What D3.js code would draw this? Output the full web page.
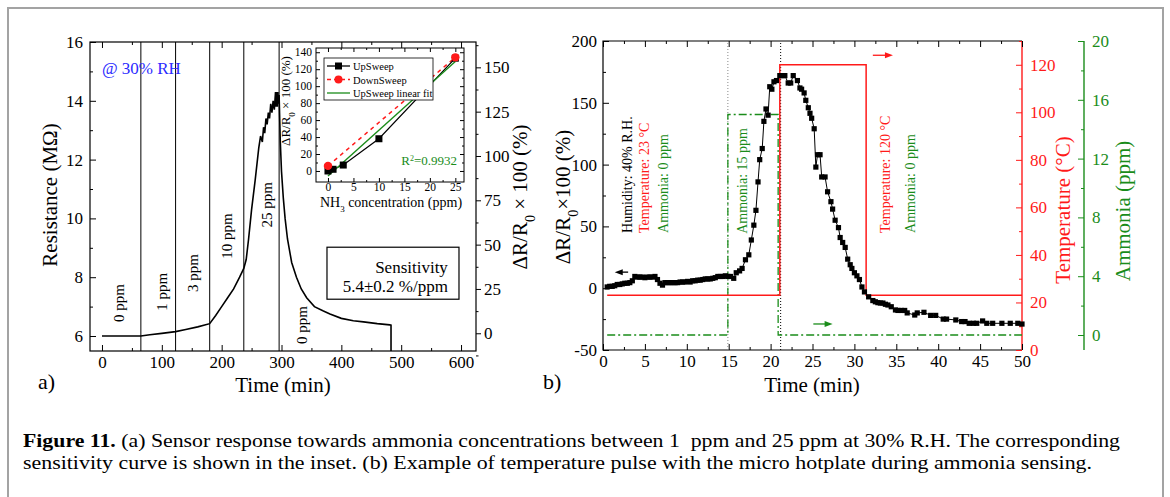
<!DOCTYPE html>
<html>
<head>
<meta charset="utf-8">
<script src="https://cdn.jsdelivr.net/npm/d3@7"></script>
<style>
body { margin: 0; background: #fff; }
text { font-family: "Liberation Serif", "Times New Roman", serif; }
</style>
</head>
<body>
<svg id="fig" width="1170" height="497"></svg>
<script>
// ---- panel a: resistance vs time ----
const resTime = [0, 20, 40, 65, 80, 100, 123, 140, 160, 180, 190, 200, 210, 220, 230, 237,
  241, 245, 250, 256, 262, 265, 268, 270, 272, 274, 276, 278, 280, 282, 284, 286, 288, 290,
  291, 292, 293, 294, 295, 296, 298, 300, 303, 306, 310, 317, 325, 333, 342, 355, 370, 381,
  400, 420, 437, 460, 481, 483, 483];
const resVal = [6.0, 6.0, 6.0, 6.0, 6.04, 6.09, 6.15, 6.22, 6.31, 6.42, 6.7, 7.0, 7.3, 7.6, 8.0, 8.3,
  8.6, 9.3, 10.3, 11.3, 12.4, 12.8, 12.6, 13.1, 12.9, 13.4, 13.2, 13.6, 13.4, 13.9, 13.6, 14.0, 13.7, 14.3,
  13.8, 14.3, 13.8, 14.3, 13.9, 14.2, 12.6, 11.6, 10.7, 10.0, 9.3, 8.5, 8.0, 7.6, 7.3, 7.0, 6.85, 6.75,
  6.6, 6.52, 6.48, 6.42, 6.38, 6.37, 5.49];
const stepTimes = [65, 123, 180, 237, 296];
const ppmLabels = ["0 ppm", "1 ppm", "3 ppm", "10 ppm", "25 ppm", "0 ppm"];
const ppmLabelTime = [37, 109, 160, 217, 284, 343];
const ppmLabelRes = [7.12, 7.5, 8.14, 9.4, 10.46, 6.37];

// ---- inset: sensitivity ----
const insetConc = [0, 1, 3, 10, 25];
const insetUp = [0, 2, 7, 38, 133];
const insetDownConc = [0, 25];
const insetDown = [6, 134];
const fitConc = [0, 25];
const fitVal = [-6, 129];

// ---- panel b: temperature pulse ----
const pulseTime = [0.5, 0.8, 1.1, 1.4, 1.7, 2.0, 2.3, 2.6, 2.9, 3.2, 3.5, 3.8, 4.1, 4.4, 4.7, 5.0, 5.3, 5.6,
  5.9, 6.2, 6.5, 6.8, 7.1, 7.4, 7.7, 8.0, 8.3, 8.6, 8.9, 9.2, 9.5, 9.8, 10.1, 10.4, 10.7, 11.0, 11.3,
  11.6, 11.9, 12.2, 12.5, 12.8, 13.1, 13.4, 13.7, 14.0, 14.3, 14.6, 14.9, 15.2, 15.6, 15.9, 16.3,
  16.6, 17.0, 17.4, 17.7, 18.0, 18.25, 18.5, 18.7, 19.0, 19.2, 19.45, 19.7, 19.9, 20.15, 20.4, 20.7,
  21.1, 21.4, 21.7, 22.1, 22.4, 22.7, 23.2, 23.5, 23.7, 24.0, 24.2, 24.5, 24.7, 24.9, 25.2, 25.4,
  25.6, 25.9, 26.1, 26.5, 26.8, 27.2, 27.4, 27.7, 28.1, 28.3, 28.6, 28.9, 29.2, 29.5, 29.7, 30.0,
  30.3, 30.6, 30.9, 31.2, 31.7, 32.2, 32.5, 32.8, 33.1, 33.4, 33.7, 34.0, 34.4, 34.9, 35.2, 35.6,
  36.0, 36.3, 37.2, 37.5, 38.3, 39.1, 39.7, 40.6, 41.0, 42.1, 42.8, 43.2, 43.7, 44.2, 44.6, 45.3,
  45.8, 46.5, 47.6, 48.6, 49.5, 50.0];
const pulseResp = [1, 1.5, 1.5, 2, 3, 3, 3.5, 4, 4, 4.5, 6, 9.5, 9, 9, 9, 8.5, 9, 9,
  9, 9.5, 7, 4, 2.5, 4.5, 4.5, 4.5, 4.5, 4.5, 4.5, 5, 5, 5, 5.5, 5, 6, 6, 6.5,
  6.5, 7, 7.5, 7.5, 7.5, 8, 8.5, 9.5, 9.5, 9.5, 10, 9.5, 9.5, 8, 12.5, 14,
  16, 23, 27, 39, 51, 63, 86, 104, 113, 135, 145, 140, 163, 161, 167, 168,
  172, 172, 172, 166, 166, 172, 168, 162, 161, 158, 152, 146, 141.5, 137.5, 129, 98,
  108, 108, 90, 90, 78, 70, 64, 55, 49, 41, 37, 33, 23.5, 19, 16, 12.5,
  10, 7, 1, -3, -7, -10, -11, -11.7, -12, -12, -13, -13.6, -15, -17.6, -18, -18,
  -18, -20, -21.7, -20, -19.5, -22, -22, -25, -25, -25.7, -27, -27, -28.4, -28.4, -28.4, -26.5,
  -28.4, -28.4, -28.4, -28.4, -28.4, -29];
const tempTime = [0.5, 21.1, 21.1, 31.4, 31.4, 50];
const tempVal = [23, 23, 120, 120, 23, 23];
const nh3Time = [0.5, 14.9, 14.9, 20.9, 20.9, 50];
const nh3Val = [0, 0, 15, 15, 0, 0];
const switchTimes = [14.9, 21.2];

const RED = "#ff1a1a", GREEN = "#1a8c1a", BLUE = "#2b2bff";
const svg = d3.select("#fig");

// outer frame of the figure
svg.append("rect").attr("x", 8).attr("y", 8).attr("width", 1155).attr("height", 560)
  .attr("fill", "none").attr("stroke", "#a3a3a3").attr("stroke-width", 2);

// axis helper: major ticks (optionally labelled) + unlabelled minor ticks
function addAxis(g, orient, scale, major, minor, o) {
  const make = { left: d3.axisLeft, right: d3.axisRight, top: d3.axisTop, bottom: d3.axisBottom }[orient];
  const color = o.color || "#000";
  const len = o.size || -6;
  const a = g.append("g").attr("transform", o.tr)
    .call(make(scale).tickValues(major).tickSize(len).tickSizeOuter(0).tickPadding(o.pad ?? 6)
      .tickFormat(o.labels ? (d => String(d)) : ""));
  a.select(".domain").remove();
  a.attr("font-family", null).attr("font-size", null);
  a.selectAll("line").attr("stroke", color).attr("stroke-width", 1);
  a.selectAll("text").attr("fill", color).style("font-size", (o.fs || 17) + "px");
  if (minor) {
    const m = g.append("g").attr("transform", o.tr)
      .call(make(scale).tickValues(minor).tickSize(len / 2).tickFormat(""));
    m.select(".domain").remove();
    m.selectAll("line").attr("stroke", color).attr("stroke-width", 1);
  }
  return a;
}

function rotText(g, x, y, str, size, color, anchor) {
  return g.append("text").attr("transform", `translate(${x},${y}) rotate(-90)`)
    .attr("text-anchor", anchor || "middle").style("font-size", size + "px")
    .attr("fill", color || "#000").text(str);
}

function arrow(g, x1, y1, x2, y2, color) {
  const dir = Math.sign(x2 - x1);
  g.append("line").attr("x1", x1).attr("y1", y1).attr("x2", x2 - dir * 5).attr("y2", y2)
    .attr("stroke", color).attr("stroke-width", 1.3);
  g.append("path").attr("d", `M${x2},${y2} L${x2 - dir * 8},${y2 - 3} L${x2 - dir * 8},${y2 + 3} Z`)
    .attr("fill", color);
}

// ================= panel a =================
const xA = d3.scaleLinear().domain([-20, 625]).range([90, 476]);
const yA = d3.scaleLinear().domain([5.49, 16]).range([351, 42]);
const yA2 = d3.scaleLinear().domain([-10, 164.3]).range([351, 42]);
const gA = svg.append("g");

gA.append("rect").attr("x", xA.range()[0]).attr("y", yA.range()[1])
  .attr("width", xA.range()[1] - xA.range()[0]).attr("height", yA.range()[0] - yA.range()[1])
  .attr("fill", "none").attr("stroke", "#000").attr("stroke-width", 1.2);

addAxis(gA, "bottom", xA, d3.range(0, 601, 100), d3.range(50, 601, 100), { tr: `translate(0,351)`, labels: true, pad: 5 });
addAxis(gA, "top", xA, d3.range(0, 601, 100), d3.range(50, 601, 100), { tr: `translate(0,42)` });
addAxis(gA, "left", yA, d3.range(6, 16.1, 2), d3.range(7, 16, 2), { tr: `translate(90,0)`, labels: true, pad: 7 });
addAxis(gA, "right", yA2, d3.range(0, 151, 25), d3.range(-12.5, 163, 25), { tr: `translate(476,0)`, labels: true, size: 5, pad: 3 });

// concentration switch lines
gA.selectAll(".step").data(stepTimes).join("line")
  .attr("x1", d => xA(d)).attr("x2", d => xA(d))
  .attr("y1", yA.range()[0]).attr("y2", yA.range()[1])
  .attr("stroke", "#000").attr("stroke-width", 1);

const resPts = resTime.map((t, i) => [t, resVal[i]]);
gA.append("path").datum(resPts)
  .attr("fill", "none").attr("stroke", "#000").attr("stroke-width", 1.6)
  .attr("d", d3.line().x(d => xA(d[0])).y(d => yA(d[1])));

ppmLabels.forEach((s, i) => rotText(gA, xA(ppmLabelTime[i]), yA(ppmLabelRes[i]), s, 15));

gA.append("text").attr("x", xA(0)).attr("y", yA(14.9)).attr("fill", BLUE)
  .style("font-size", "17px").text("@ 30% RH");

// sensitivity box
gA.append("rect").attr("x", xA(376)).attr("y", yA(9.02)).attr("width", 132).attr("height", 52)
  .attr("fill", "#fff").attr("stroke", "#000").attr("stroke-width", 1.2);
gA.append("text").attr("x", xA(578)).attr("y", yA(8.16)).attr("text-anchor", "end")
  .style("font-size", "17px").text("Sensitivity");
gA.append("text").attr("x", xA(578)).attr("y", yA(7.48)).attr("text-anchor", "end")
  .style("font-size", "17px").text("5.4\u00b10.2 %/ppm");

// axis titles
rotText(gA, 57, 195, "Resistance (M\u03a9)", 21);
const tA = gA.append("text").attr("transform", "translate(527,197) rotate(-90)")
  .attr("text-anchor", "middle").style("font-size", "21px");
tA.append("tspan").text("\u0394R/R");
tA.append("tspan").attr("baseline-shift", "sub").style("font-size", "14px").text("0");
tA.append("tspan").text(" \u00d7 100 (%)");
gA.append("text").attr("x", 283).attr("y", 392).attr("text-anchor", "middle").style("font-size", "21px").text("Time (min)");
gA.append("text").attr("x", 38).attr("y", 389).style("font-size", "22px").text("a)");

// ================= inset =================
const xI = d3.scaleLinear().domain([-2.35, 26.7]).range([316, 464]);
const yI = d3.scaleLinear().domain([-13, 145]).range([182, 48]);
const gI = svg.append("g");
gI.append("rect").attr("x", 316).attr("y", 48).attr("width", 148).attr("height", 134)
  .attr("fill", "#fff").attr("stroke", "#000").attr("stroke-width", 1);
addAxis(gI, "bottom", xI, d3.range(0, 26, 5), d3.range(2.5, 26, 5), { tr: `translate(0,182)`, labels: true, size: -4, pad: 1, fs: 11.5 });
addAxis(gI, "top", xI, d3.range(0, 26, 5), d3.range(2.5, 26, 5), { tr: `translate(0,48)`, size: -4 });
addAxis(gI, "left", yI, d3.range(0, 141, 20), d3.range(10, 141, 20), { tr: `translate(316,0)`, labels: true, size: -4, pad: 4, fs: 11.5 });
addAxis(gI, "right", yI, d3.range(0, 141, 20), d3.range(10, 141, 20), { tr: `translate(464,0)`, size: -4 });

const lineI = d3.line().x(d => xI(d[0])).y(d => yI(d[1]));
const upPts = insetConc.map((c, i) => [c, insetUp[i]]);
const downPts = insetDownConc.map((c, i) => [c, insetDown[i]]);
const fitPts = fitConc.map((c, i) => [c, fitVal[i]]);
gI.append("path").datum(downPts).attr("fill", "none").attr("stroke", RED).attr("stroke-width", 1.5)
  .attr("stroke-dasharray", "4,4").attr("d", lineI);
gI.append("path").datum(upPts).attr("fill", "none").attr("stroke", "#000").attr("stroke-width", 1.2).attr("d", lineI);
gI.append("path").datum(fitPts).attr("fill", "none").attr("stroke", GREEN).attr("stroke-width", 1.4).attr("d", lineI);
gI.selectAll(".up").data(upPts).join("rect")
  .attr("x", d => xI(d[0]) - 3.5).attr("y", d => yI(d[1]) - 3.5).attr("width", 7).attr("height", 7).attr("fill", "#000");
gI.selectAll(".dn").data(downPts).join("circle")
  .attr("cx", d => xI(d[0])).attr("cy", d => yI(d[1])).attr("r", 4.2).attr("fill", RED);

const rT = gI.append("text").attr("x", 457).attr("y", 165).attr("text-anchor", "end")
  .attr("fill", GREEN).style("font-size", "13px");
rT.append("tspan").text("R");
rT.append("tspan").attr("baseline-shift", "super").style("font-size", "8px").text("2");
rT.append("tspan").text("=0.9932");

// inset legend
gI.append("rect").attr("x", 324).attr("y", 58).attr("width", 109).attr("height", 42)
  .attr("fill", "#fff").attr("stroke", "#000").attr("stroke-width", 0.8);
const legNames = ["UpSweep", "DownSweep", "UpSweep linear fit"];
const legColors = ["#000", RED, GREEN];
const legDash = [null, "4,3", null];
legNames.forEach((n, i) => {
  const y = 66 + i * 13.5;
  gI.append("line").attr("x1", 327).attr("x2", 350).attr("y1", y).attr("y2", y)
    .attr("stroke", legColors[i]).attr("stroke-width", 1.3).attr("stroke-dasharray", legDash[i]);
  if (i === 0) gI.append("rect").attr("x", 335).attr("y", y - 3.5).attr("width", 7).attr("height", 7).attr("fill", "#000");
  if (i === 1) gI.append("circle").attr("cx", 338.5).attr("cy", y).attr("r", 4).attr("fill", RED);
  gI.append("text").attr("x", 353).attr("y", y + 4).style("font-size", "10.5px").text(n);
});

const nT = gI.append("text").attr("x", 391).attr("y", 207).attr("text-anchor", "middle").style("font-size", "14px");
nT.append("tspan").text("NH");
nT.append("tspan").attr("baseline-shift", "sub").style("font-size", "9px").text("3");
nT.append("tspan").text(" concentration (ppm)");
const iY = gI.append("text").attr("transform", "translate(290,101) rotate(-90)")
  .attr("text-anchor", "middle").style("font-size", "13px");
iY.append("tspan").text("\u0394R/R");
iY.append("tspan").attr("baseline-shift", "sub").style("font-size", "9px").text("0");
iY.append("tspan").text(" \u00d7 100 (%)");

// ================= panel b =================
const xB = d3.scaleLinear().domain([0, 50]).range([603, 1022]);
const yB = d3.scaleLinear().domain([-50, 200]).range([350, 41]);
const yT = d3.scaleLinear().domain([0, 130]).range([350, 41]);
const yN = d3.scaleLinear().domain([-1.02, 20]).range([350, 41]);
const gB = svg.append("g");

// black spines (left, top, bottom); right spine is the red temperature axis
gB.append("path").attr("d", `M${xB(50)},${yB(200)} H${xB(0)} V${yB(-50)} H${xB(50)}`)
  .attr("fill", "none").attr("stroke", "#000").attr("stroke-width", 1.2);
gB.append("line").attr("x1", xB(50)).attr("x2", xB(50)).attr("y1", yT.range()[0]).attr("y2", yT.range()[1])
  .attr("stroke", RED).attr("stroke-width", 1.4);
gB.append("line").attr("x1", 1084).attr("x2", 1084).attr("y1", yN.range()[0]).attr("y2", yN.range()[1])
  .attr("stroke", GREEN).attr("stroke-width", 1.4);

addAxis(gB, "bottom", xB, d3.range(0, 51, 5), d3.range(2.5, 50, 5), { tr: `translate(0,350)`, labels: true, pad: 5 });
addAxis(gB, "top", xB, d3.range(0, 51, 5), d3.range(2.5, 50, 5), { tr: `translate(0,41)` });
addAxis(gB, "left", yB, d3.range(-50, 201, 50), d3.range(-25, 200, 50), { tr: `translate(603,0)`, labels: true, pad: 6 });
addAxis(gB, "right", yT, d3.range(0, 121, 20), d3.range(10, 131, 20), { tr: `translate(1022,0)`, labels: true, pad: 8, color: RED });
addAxis(gB, "right", yN, d3.range(0, 21, 4), d3.range(2, 20, 4), { tr: `translate(1084,0)`, labels: true, pad: 8, color: GREEN });

// gas switch markers
gB.selectAll(".sw").data(switchTimes).join("line")
  .attr("x1", d => xB(d)).attr("x2", d => xB(d)).attr("y1", yB(-50)).attr("y2", yB(200))
  .attr("stroke", (d, i) => i === 0 ? "#888" : "#000").attr("stroke-width", 1).attr("stroke-dasharray", "1,2");

const nh3Pts = nh3Time.map((t, i) => [t, nh3Val[i]]);
gB.append("path").datum(nh3Pts).attr("fill", "none").attr("stroke", GREEN).attr("stroke-width", 1.3)
  .attr("stroke-dasharray", "8,3,2,3").attr("d", d3.line().x(d => xB(d[0])).y(d => yN(d[1])));
const tempPts = tempTime.map((t, i) => [t, tempVal[i]]);
gB.append("path").datum(tempPts).attr("fill", "none").attr("stroke", RED).attr("stroke-width", 1.5)
  .attr("d", d3.line().x(d => xB(d[0])).y(d => yT(d[1])));

const pulsePts = pulseTime.map((t, i) => [t, pulseResp[i]]);
gB.append("path").datum(pulsePts).attr("fill", "none").attr("stroke", "#000").attr("stroke-width", 1)
  .attr("d", d3.line().x(d => xB(d[0])).y(d => yB(d[1])));
gB.selectAll(".pt").data(pulsePts).join("rect")
  .attr("x", d => xB(d[0]) - 2.6).attr("y", d => yB(d[1]) - 2.6).attr("width", 5.2).attr("height", 5.2).attr("fill", "#000");

// condition annotations
const notes = [
  [3.5, 44.7, "Humidity: 40% R.H.", "#000"],
  [5.5, 44.7, "Temperature: 23 \u00b0C", RED],
  [7.75, 44.7, "Ammonia: 0 ppm", GREEN],
  [17.2, 44, "Ammonia: 15 ppm", GREEN],
  [34.25, 44.7, "Temperature: 120 \u00b0C", RED],
  [37.2, 44.7, "Ammonia: 0 ppm", GREEN]
];
notes.forEach(n => rotText(gB, xB(n[0]), yB(n[1]), n[2], 14, n[3], "start"));

arrow(gB, xB(3.0), yB(13), xB(1.4), yB(13), "#000");
arrow(gB, xB(32.2), yT(124), xB(34.6), yT(124), RED);
arrow(gB, xB(25.1), yN(0.75), xB(27.4), yN(0.75), GREEN);

const tB = gB.append("text").attr("transform", "translate(570,197) rotate(-90)")
  .attr("text-anchor", "middle").style("font-size", "21px");
tB.append("tspan").text("\u0394R/R");
tB.append("tspan").attr("baseline-shift", "sub").style("font-size", "14px").text("0");
tB.append("tspan").text("\u00d7100 (%)");
rotText(gB, 1070, 210, "Temperature (\u00b0C)", 21, RED);
rotText(gB, 1130, 211, "Ammonia (ppm)", 21, GREEN);
gB.append("text").attr("x", 812).attr("y", 392).attr("text-anchor", "middle").style("font-size", "21px").text("Time (min)");
gB.append("text").attr("x", 543).attr("y", 389).style("font-size", "22px").text("b)");

// ================= caption =================
const cap1 = svg.append("text").attr("x", 23).attr("y", 447).style("font-size", "18px")
  .attr("textLength", 1097).attr("lengthAdjust", "spacingAndGlyphs");
cap1.append("tspan").attr("font-weight", "bold").text("Figure 11.");
cap1.append("tspan").text(" (a) Sensor response towards ammonia concentrations between 1\u00a0 ppm and 25 ppm at 30% R.H. The corresponding");
svg.append("text").attr("x", 23).attr("y", 469).style("font-size", "18px")
  .attr("textLength", 1069).attr("lengthAdjust", "spacingAndGlyphs")
  .text("sensitivity curve is shown in the inset. (b) Example of temperature pulse with the micro hotplate during ammonia sensing.");
</script>
</body>
</html>
